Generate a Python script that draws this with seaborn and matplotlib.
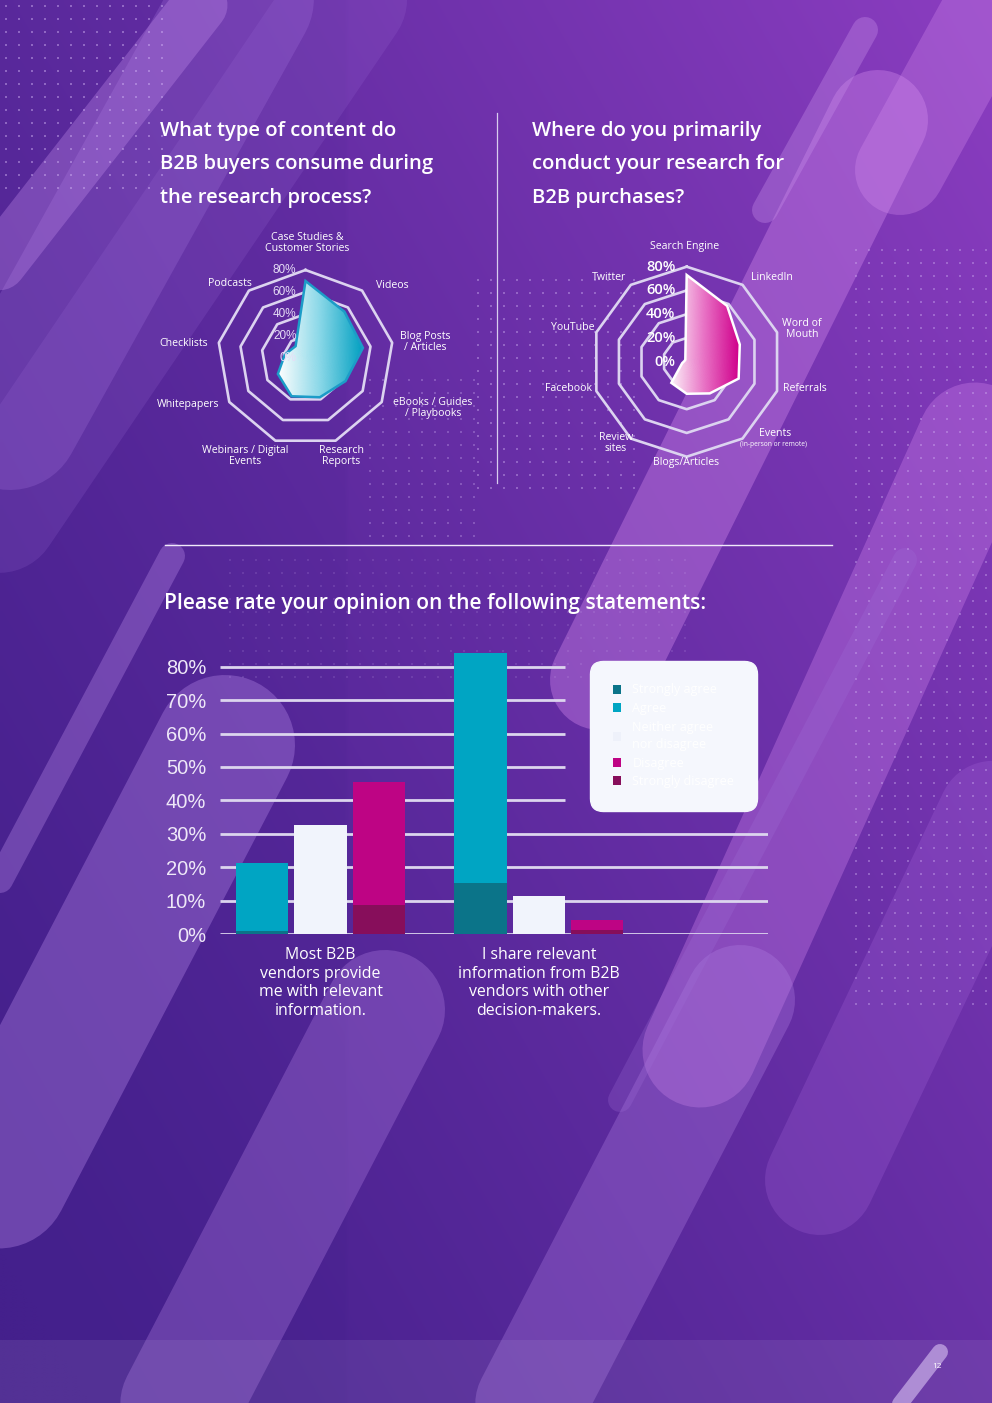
import numpy as np
import pandas as pd
import matplotlib
matplotlib.use("Agg")
import matplotlib.pyplot as plt
import matplotlib.transforms as mtransforms
from matplotlib.colors import LinearSegmentedColormap, Normalize, to_rgb
from matplotlib.patches import Rectangle, Patch
import seaborn as sns

# ---------------- data ----------------
content_labels = ["Case Studies &\nCustomer Stories", "Videos", "Blog Posts\n/ Articles",
                  "eBooks / Guides\n/ Playbooks", "Research\nReports", "Webinars / Digital\nEvents",
                  "Whitepapers", "Checklists", "Podcasts"]
content_values = [70, 55, 53, 42, 38, 37, 29, 19, 14]

channel_labels = ["Search Engine", "LinkedIn", "Word of\nMouth", "Referrals", "Events",
                  "Blogs/Articles", "Review\nsites", "Facebook", "YouTube", "Twitter"]
channel_values = [73, 58, 47, 46, 33, 27, 22, 4, 2, 2]

radar_rings = [20, 40, 60, 80]
radar_tick_values = [0, 20, 40, 60, 80]
radar_tick_labels = ["0%", "20%", "40%", "60%", "80%"]

statements = ["Most B2B\nvendors provide\nme with relevant\ninformation.",
              "I share relevant\ninformation from B2B\nvendors with other\ndecision-makers."]
response_labels = ["Strongly agree", "Agree", "Neither agree\nnor disagree", "Disagree", "Strongly disagree"]
strongly_agree = [1.0, 15.4]
agree = [20.3, 68.7]
neither = [32.6, 11.4]
disagree = [36.8, 3.0]
strongly_disagree = [8.7, 1.2]
bar_ticks = [0, 10, 20, 30, 40, 50, 60, 70, 80]
bar_tick_labels = [f"{t}%" for t in bar_ticks]

title_left = ["What type of content do", "B2B buyers consume during", "the research process?"]
title_right = ["Where do you primarily", "conduct your research for", "B2B purchases?"]
title_bars = "Please rate your opinion on the following statements:"

# ---------------- style ----------------
W, H = 992, 1403
C_SAGREE, C_AGREE, C_NEITHER, C_DISAGREE, C_SDISAGREE = "#0B7489", "#00A5C3", "#F1F4FC", "#BE0484", "#870E5B"
RING = "#DCD3F0"
TEXT = "#FFFFFF"

plt.rcParams['font.family'] = ['Open Sans', 'DejaVu Sans']

fig = plt.figure(figsize=(W / 100, H / 100), dpi=100)


def fx(x):
    return x / W


def fy(y):
    return 1 - y / H


# ---------------- background ----------------
bg = fig.add_axes([0, 0, 1, 1], zorder=-10)
bg.set_xlim(0, W)
bg.set_ylim(H, 0)
bg.axis('off')
gx, gy = np.meshgrid(np.linspace(0, 1, 200), np.linspace(0, 1, 280))
t = np.clip(0.55 * gx + 0.45 * (1 - gy) - 0.05 * (gx < 0.35), 0, 1) ** 1.3
c0 = np.array(to_rgb("#44208C"))
c1 = np.array(to_rgb("#8B3DC0"))
img = c0 + (c1 - c0) * t[..., None]
bg.imshow(img, extent=[0, W, H, 0], aspect='auto', interpolation='bilinear', zorder=0)

strokes = [
    # (x0, y0, x1, y1, width_px, color, alpha)
    (10, 420, 260, -30, 140, "#A878E0", 0.26),
    (200, 5, -30, 300, 55, "#C08AEA", 0.35),
    (360, -20, -60, 600, 120, "#A070DA", 0.18),
    (878, 120, 600, 680, 100, "#CF86EA", 0.40),
    (865, 30, 765, 210, 26, "#C890EA", 0.35),
    (1010, -30, 900, 170, 90, "#D890F0", 0.30),
    (975, 440, 700, 1050, 115, "#C77BE6", 0.38),
    (225, 745, -80, 1330, 140, "#B083E4", 0.38),
    (172, 556, 0, 880, 26, "#B88AE8", 0.35),
    (385, 1010, 120, 1520, 120, "#B07FE2", 0.33),
    (740, 1000, 470, 1520, 110, "#B07FE2", 0.33),
    (905, 560, 620, 1100, 24, "#A070D8", 0.25),
    (940, 1352, 880, 1430, 16, "#E0C8F8", 0.6),
    (1010, 780, 820, 1180, 110, "#A868DC", 0.25),
]
for x0, y0, x1, y1, w, c, a in strokes:
    bg.plot([x0, x1], [y0, y1], lw=w * 0.72, color=c, alpha=a, solid_capstyle='round', zorder=1)


def dots(xa, xb, ya, yb, step, alpha):
    xs, ys = np.meshgrid(np.arange(xa, xb, step), np.arange(ya, yb, step))
    bg.scatter(xs.ravel(), ys.ravel(), s=4.0, marker='s', color="#D2B4F4", alpha=alpha, linewidths=0, zorder=2)


dots(6, 172, 6, 200, 13, 0.45)
dots(478, 640, 280, 492, 13, 0.40)
dots(370, 478, 380, 540, 13, 0.30)
dots(856, 992, 250, 1010, 13, 0.38)
dots(230, 690, 560, 690, 13, 0.15)

bg.add_patch(Rectangle((0, 1340), W, 63, color="#B8A8D8", alpha=0.13, zorder=3, lw=0))
bg.text(937, 1366, "12", color="white", fontsize=6, ha='center', va='center', zorder=4)

# dividers
bg.plot([497, 497], [113, 483], color="#D8CCEE", lw=0.9, zorder=4)
bg.plot([165, 832], [545, 545], color="#F0EAFA", lw=1.0, zorder=4)

# ---------------- titles ----------------
for i, line in enumerate(title_left):
    fig.text(fx(160), fy(131 + 33.5 * i), line, color=TEXT, fontsize=14.6, fontweight='semibold',
             ha='left', va='center')
for i, line in enumerate(title_right):
    fig.text(fx(532), fy(131 + 33.5 * i), line, color=TEXT, fontsize=14.6, fontweight='semibold',
             ha='left', va='center')
fig.text(fx(164), fy(604), title_bars, color=TEXT, fontsize=15.1, fontweight='semibold',
         ha='left', va='center')


# ---------------- radar charts ----------------
def radar(cx, cy, r80, values, cmap_colors, edge_color, tick_color, tick_size, tick_weight, tick_dx):
    rmax = 84
    R = r80 * rmax / 80
    ax = fig.add_axes([fx(cx - R), fy(cy + R), 2 * R / W, 2 * R / H], projection='polar')
    ax.set_theta_zero_location('N')
    ax.set_theta_direction(-1)
    ax.set_ylim(0, rmax)
    ax.axis('off')
    n = len(values)
    theta = np.linspace(0, 2 * np.pi, n, endpoint=False)
    tc = np.append(theta, theta[0])
    for r in radar_rings:
        ax.plot(tc, [r] * (n + 1), color=RING, lw=1.9, zorder=1, clip_on=False)
    vals = np.asarray(values, float)
    vc = np.append(vals, vals[0])
    poly = ax.fill(tc, vc, facecolor='none', edgecolor=edge_color, lw=1.8, zorder=4)[0]
    TT, RR = np.meshgrid(np.linspace(0, 2 * np.pi, 241), np.linspace(0, rmax, 61))
    xs = vals * np.sin(theta)
    cmap = LinearSegmentedColormap.from_list("grad", cmap_colors)
    mesh = ax.pcolormesh(TT, RR, RR * np.sin(TT), cmap=cmap, norm=Normalize(xs.min(), xs.max()),
                         shading='gouraud', zorder=3)
    mesh.set_clip_path(poly)
    off = mtransforms.offset_copy(ax.transData, fig=fig, x=tick_dx, y=0, units='points')
    for v, lab in zip(radar_tick_values, radar_tick_labels):
        ax.text(0, v, lab, transform=off, ha='right', va='center', color=tick_color,
                fontsize=tick_size, fontweight=tick_weight, zorder=6,
                family=['Liberation Sans', 'DejaVu Sans'] if tick_weight == 'normal' else ['Open Sans'])
    return ax


radar(305.5, 358, 88, content_values, ["#FFFFFF", "#8AD8E8", "#04A1C2"], "#1C9CC8",
      "#E6DDF6", 8.5, 'normal', -6.5)
radar(686.7, 361.7, 95, channel_values, ["#FCEFF8", "#E870C4", "#D0008C"], "#FFFFFF",
      "#FFFFFF", 10.5, 'semibold', -8.0)

# radar category labels (pixel centres)
content_pos = [(307, 243), (392, 285), (425, 342), (433, 408), (341, 456), (245, 456),
               (188, 404), (184, 343), (230, 283)]
for lab, (x, y) in zip(content_labels, content_pos):
    fig.text(fx(x), fy(y), lab, color=TEXT, fontsize=7.6, ha='center', va='center', linespacing=1.0)

channel_pos = [(685, 247), (772, 278), (802, 329), (805, 388), (775, 433), (686, 463),
               (616, 443), (568, 388), (573, 328), (609, 278)]
for lab, (x, y) in zip(channel_labels, channel_pos):
    fig.text(fx(x), fy(y), lab, color=TEXT, fontsize=7.6, ha='center', va='center', linespacing=1.0)
fig.text(fx(774), fy(444), "(in-person or remote)", color=TEXT, fontsize=4.8, ha='center', va='center')

# ---------------- bar chart ----------------
px0, px_per_unit = 320.5, 218.3
ax_left, ax_right, ax_bottom, ax_top = 220, 768, 934, 646
px_per_pct = 3.341
ax = fig.add_axes([fx(ax_left), fy(ax_bottom), (ax_right - ax_left) / W, (ax_bottom - ax_top) / H])
ax.patch.set_alpha(0)

groups = ["agree", "neither", "disagree"]
df_top = pd.DataFrame({
    "statement": statements * 3,
    "group": np.repeat(groups, 2),
    "value": np.concatenate([np.add(strongly_agree, agree), neither, np.add(disagree, strongly_disagree)]),
})
df_bot = pd.DataFrame({
    "statement": statements * 3,
    "group": np.repeat(groups, 2),
    "value": np.concatenate([strongly_agree, np.zeros(2), strongly_disagree]),
})
common = dict(x="statement", y="value", hue="group", order=statements, hue_order=groups,
              width=0.8, gap=0.1, saturation=1, errorbar=None, legend=False, ax=ax, linewidth=0)
sns.barplot(data=df_top, palette=[C_AGREE, C_NEITHER, C_DISAGREE], zorder=2, **common)
sns.barplot(data=df_bot, palette=[C_SAGREE, C_NEITHER, C_SDISAGREE], zorder=3, **common)

xlo = (ax_left - px0) / px_per_unit
xhi = (ax_right - px0) / px_per_unit
xcut = (565 - px0) / px_per_unit
ax.set_xlim(xlo, xhi)
ax.set_ylim(0, (ax_bottom - ax_top) / px_per_pct)
for tk in bar_ticks:
    ax.hlines(tk, xlo, xcut if tk >= 40 else xhi, color="#DCD5EE", lw=2.0, zorder=1)
for s in ax.spines.values():
    s.set_visible(False)
ax.grid(False)
ax.set_xlabel("")
ax.set_ylabel("")
ax.set_yticks(bar_ticks)
ax.set_yticklabels(bar_tick_labels, fontsize=14.5, color="#EEE8F8", family=['Liberation Sans', 'DejaVu Sans'])
ax.set_xticks([0, 1])
ax.set_xticklabels(statements, fontsize=11.4, fontweight='medium', color=TEXT, linespacing=1.21, va='top')
ax.tick_params(axis='y', length=0, pad=10)
ax.tick_params(axis='x', length=0, pad=9.5)

handles = [Patch(facecolor=c, edgecolor='none') for c in
           [C_SAGREE, C_AGREE, "#EEF1FA", C_DISAGREE, C_SDISAGREE]]
leg = ax.legend(handles, response_labels, loc='upper left', bbox_to_anchor=(fx(590), fy(661)),
                bbox_transform=fig.transFigure, borderaxespad=0, frameon=True, fancybox=True,
                facecolor="#F5F7FD", edgecolor="#F5F7FD", framealpha=1, labelcolor="#FFFFFF",
                fontsize=9, borderpad=1.8, handlelength=0.7, handleheight=0.7,
                handletextpad=0.9, labelspacing=0.44)
for txt in leg.get_texts():
    txt.set_linespacing(1.45)
leg.get_frame().set_boxstyle("round", pad=0, rounding_size=1.0)
leg.set_zorder(10)

fig.savefig("out.png", dpi=100)
